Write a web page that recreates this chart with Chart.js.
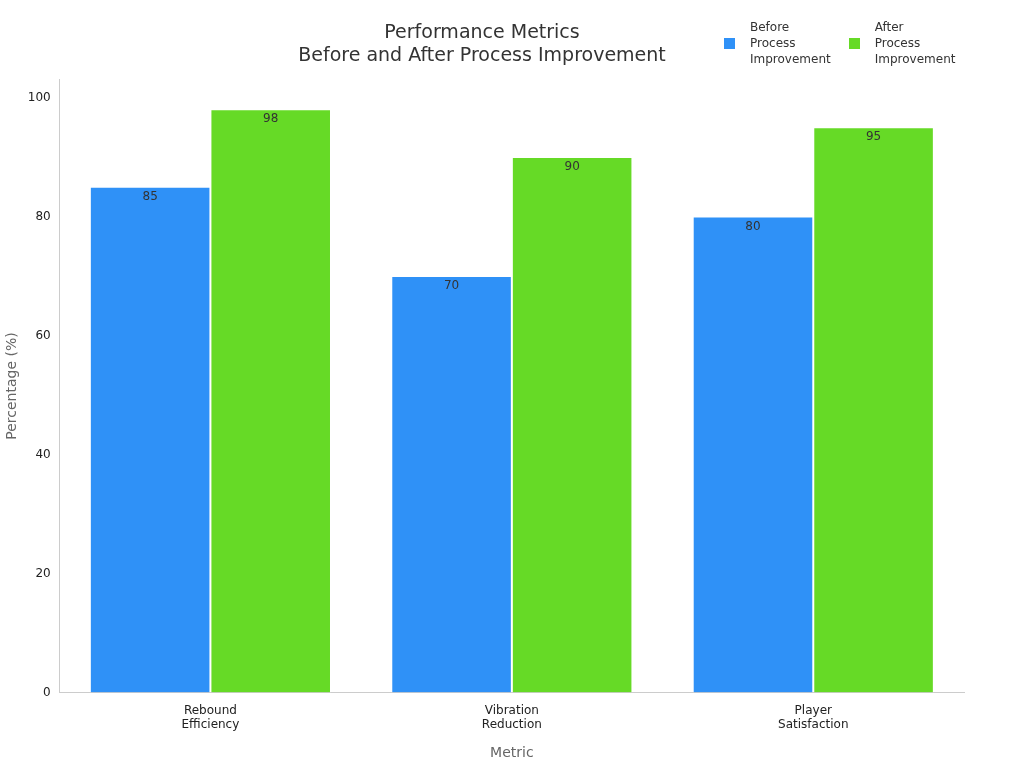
<!DOCTYPE html>
<html>
<head>
<meta charset="utf-8">
<script src="https://cdn.jsdelivr.net/npm/chart.js@4/dist/chart.umd.min.js"></script>
<style>
  body { margin: 0; background: #fff; font-family: "DejaVu Sans", sans-serif; }
  #wrap { position: relative; width: 1024px; height: 768px; }
  #legend { position: absolute; top: 19px; left: 724px; display: flex; font-size: 12px; color: #333; line-height: 16px; }
  .item { display: flex; align-items: center; margin-right: 18px; }
  .box { width: 11px; height: 11px; margin-right: 15px; }
</style>
</head>
<body>
<div id="wrap">
  <canvas id="chart" width="1024" height="768"></canvas>
  <div id="legend"></div>
</div>
<script>
const categories = [["Rebound", "Efficiency"], ["Vibration", "Reduction"], ["Player", "Satisfaction"]];
const seriesNames = [["Before", "Process", "Improvement"], ["After", "Process", "Improvement"]];
const beforeValues = [85, 70, 80];
const afterValues = [98, 90, 95];
const yTicks = [0, 20, 40, 60, 80, 100];
const colors = ["#2f91f7", "#66da26"];

// legend as html since labels wrap over three lines
const legend = document.getElementById("legend");
seriesNames.forEach((name, i) => {
    const item = document.createElement("div");
    item.className = "item";
    item.innerHTML = '<div class="box" style="background:' + colors[i] + '"></div><div>' + name.join("<br>") + "</div>";
    legend.appendChild(item);
});

const valueLabels = {
    id: "valueLabels",
    afterDatasetsDraw(chart) {
        const ctx = chart.ctx;
        ctx.save();
        ctx.font = "12px 'DejaVu Sans'";
        ctx.fillStyle = "#333";
        ctx.textAlign = "center";
        ctx.textBaseline = "top";
        chart.data.datasets.forEach((ds, i) => {
            chart.getDatasetMeta(i).data.forEach((bar, j) => {
                ctx.fillText(ds.data[j], bar.x, bar.y + 4);
            });
        });
        ctx.restore();
    }
};

new Chart(document.getElementById("chart"), {
    type: "bar",
    data: {
        labels: categories,
        datasets: [
            { label: seriesNames[0].join(" "), data: beforeValues, backgroundColor: colors[0], borderColor: "#fff", borderWidth: 1 },
            { label: seriesNames[1].join(" "), data: afterValues, backgroundColor: colors[1], borderColor: "#fff", borderWidth: 1 }
        ]
    },
    options: {
        responsive: false,
        animation: false,
        layout: { padding: { left: 0, right: 60, top: 10, bottom: 2 } },
        datasets: { bar: { barPercentage: 1, categoryPercentage: 0.8 } },
        plugins: {
            legend: { display: false },
            tooltip: { enabled: false },
            title: {
                display: true,
                text: ["Performance Metrics", "Before and After Process Improvement"],
                color: "#333",
                font: { family: "DejaVu Sans", size: 19, weight: "normal" },
                padding: { top: 12, bottom: 12 }
            }
        },
        scales: {
            x: {
                grid: { display: false, drawTicks: true },
                border: { color: "#ccc" },
                ticks: { color: "#222", font: { family: "DejaVu Sans", size: 12 } },
                title: { display: true, text: "Metric", color: "#666", font: { family: "DejaVu Sans", size: 14 }, padding: { top: 10 } }
            },
            y: {
                min: 0,
                max: 103,
                afterBuildTicks(axis) { axis.ticks = yTicks.map(v => ({ value: v })); },
                grid: { display: false, drawOnChartArea: false, drawTicks: true, tickLength: 6, color: "#999" },
                border: { color: "#ccc" },
                ticks: { color: "#222", font: { family: "DejaVu Sans", size: 12 } },
                title: { display: true, text: "Percentage (%)", color: "#666", font: { family: "DejaVu Sans", size: 14 } }
            }
        }
    },
    plugins: [valueLabels]
});
</script>
</body>
</html>
